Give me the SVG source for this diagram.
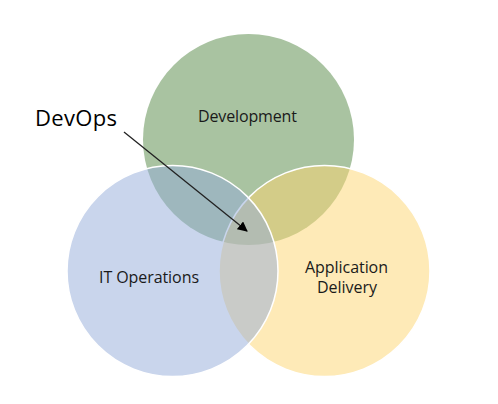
<svg xmlns="http://www.w3.org/2000/svg" width="498" height="404" viewBox="0 0 498 404">
  <defs>
    <style>
      .lbl { font-family: "Open Sans", "Liberation Sans", sans-serif; font-size: 16px; fill: #1a1a1a; text-anchor: middle; }
      .big { font-family: "Open Sans", "Liberation Sans", sans-serif; font-size: 22px; fill: #000; }
      .conn { stroke: #222; stroke-width: 1.3; fill: none; }
    </style>
    <marker id="arrow" viewBox="0 0 10 10" refX="9" refY="5" markerWidth="10" markerHeight="10" markerUnits="userSpaceOnUse" orient="auto">
      <path d="M0,0 L10,5 L0,10 Z" fill="#000"/>
    </marker>
  </defs>
  <rect width="498" height="404" fill="#fff"/>
  <g id="development">
    <circle cx="248.5" cy="139.5" r="105.5" fill="#a9c3a1"/>
    <text class="lbl" x="247.5" y="122" textLength="99">Development</text>
  </g>
  <g id="application-delivery">
    <circle cx="324.5" cy="271" r="105.5" fill="#fdd56f" fill-opacity="0.5" stroke="#fff" stroke-width="1.5"/>
    <text class="lbl" x="346.5" y="273" textLength="83">Application</text>
    <text class="lbl" x="347" y="293" textLength="60">Delivery</text>
  </g>
  <g id="it-operations">
    <circle cx="172.5" cy="271" r="105.5" fill="#93abd9" fill-opacity="0.5" stroke="#fff" stroke-width="1.5"/>
    <text class="lbl" x="149" y="283" textLength="100">IT Operations</text>
  </g>
  <g id="devops">
    <text class="big" x="35" y="126" textLength="82">DevOps</text>
  </g>
  <g id="connectors">
    <line class="conn" x1="124" y1="132" x2="247" y2="231" marker-end="url(#arrow)"/>
  </g>
</svg>
